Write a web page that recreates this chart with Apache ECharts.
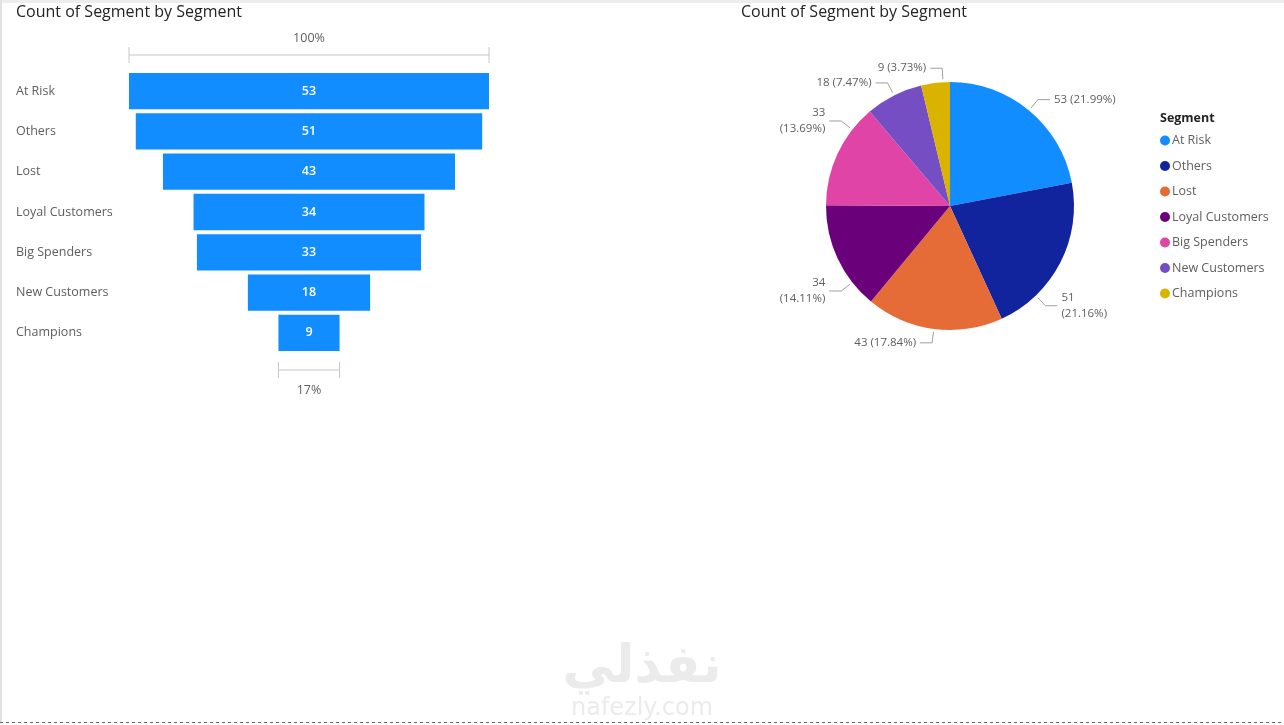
<!DOCTYPE html>
<html><head><meta charset="utf-8">
<script src="https://cdn.jsdelivr.net/npm/echarts@6/dist/echarts.min.js"></script>
<style>html,body{margin:0;padding:0;background:#fff}#c{width:1284px;height:725px}</style>
</head><body><div id="c"></div>
<script>
// ---- data ----
const categories = ['At Risk','Others','Lost','Loyal Customers','Big Spenders','New Customers','Champions'];
const counts = [53, 51, 43, 34, 33, 18, 9];
const chartTitle = 'Count of Segment by Segment';
const legendTitle = 'Segment';

// ---- styles / layout ----
const palette = ['#118DFF','#12239E','#E66C37','#6B007B','#E044A7','#744EC2','#D9B300'];
const FONT = '"Open Sans", "Noto Sans", sans-serif';
const PIE_CENTER = [950, 206];
const PIE_R = 124;
const twoLineLabels = ['Others','Loyal Customers','Big Spenders'];
// leader-line anchor angle shifts (deg) mimicking the reference's collision layout
const anchorShift = { 'Others': 19, 'Loyal Customers': -13, 'Big Spenders': 13, 'Champions': 3.5 };

const maxV = Math.max(...counts);
const total = counts.reduce((a,b)=>a+b,0);
const chart = echarts.init(document.getElementById('c'));

function pieLabelLayout(p) {
  const i = p.dataIndex;
  let before = 0;
  for (let k = 0; k < i; k++) before += counts[k];
  const mid = (before + counts[i] / 2) / total * 360 + (anchorShift[categories[i]] || 0);
  const t = mid * Math.PI / 180;
  const pt = r => [PIE_CENTER[0] + r * Math.sin(t), PIE_CENTER[1] - r * Math.cos(t)];
  const a = pt(PIE_R + 3), e = pt(PIE_R + 14);
  const side = Math.sin(t) >= 0 ? 1 : -1;
  const end = [e[0] + side * 12, e[1]];
  return {
    x: end[0] + side * 4, y: end[1],
    align: side > 0 ? 'left' : 'right', verticalAlign: 'middle',
    labelLinePoints: [a, e, end]
  };
}

chart.setOption({
  backgroundColor: '#fff',
  animation: false,
  textStyle: { fontFamily: FONT },
  color: palette,
  title: [
    { text: chartTitle, left: 16, top: 4, padding: 0, textStyle: { fontFamily: FONT, fontSize: 16, fontWeight: 'normal', color: '#252423' } },
    { text: chartTitle, left: 741, top: 4, padding: 0, textStyle: { fontFamily: FONT, fontSize: 16, fontWeight: 'normal', color: '#252423' } },
    { text: legendTitle, left: 1160, top: 112, padding: 0, textStyle: { fontFamily: FONT, fontSize: 12.5, fontWeight: 'bold', color: '#252423' } }
  ],
  grid: { left: 129, width: 360, top: 71, height: 282 },
  xAxis: { type: 'value', min: 0, max: maxV, show: false },
  yAxis: {
    type: 'category', data: categories, inverse: true,
    axisLine: { show: false }, axisTick: { show: false }, splitLine: { show: false },
    axisLabel: { align: 'left', margin: 113, color: '#605E5C', fontSize: 12.5, fontFamily: FONT, padding: [2,0,0,0] }
  },
  legend: {
    orient: 'vertical', left: 1160, top: 134, padding: 0, icon: 'circle',
    itemWidth: 10, itemHeight: 10, itemGap: 12.5,
    data: categories,
    textStyle: { color: '#605E5C', fontSize: 12.5, fontFamily: FONT, padding: [0,0,0,-3] }
  },
  series: [
    {
      type: 'bar', stack: 'funnel', silent: true, barCategoryGap: '10%',
      data: counts.map(v => (maxV - v) / 2),
      itemStyle: { color: 'rgba(0,0,0,0)' }
    },
    {
      type: 'bar', stack: 'funnel', barCategoryGap: '10%',
      data: counts,
      itemStyle: { color: '#118DFF' },
      label: { show: true, position: 'inside', color: '#fff', fontSize: 12.5, fontWeight: 600, fontFamily: FONT, padding: [2,0,0,0] }
    },
    {
      type: 'pie', center: PIE_CENTER, radius: PIE_R, startAngle: 90, clockwise: true,
      data: categories.map((n, i) => ({ name: n, value: counts[i] })),
      itemStyle: { borderWidth: 0 },
      label: {
        show: true, color: '#605E5C', fontSize: 11.5, fontFamily: FONT, lineHeight: 16,
        formatter: p => p.value + (twoLineLabels.includes(p.name) ? '\n' : ' ') + '(' + (p.value / total * 100).toFixed(2) + '%)'
      },
      labelLine: { show: true, length: 12, length2: 12, lineStyle: { color: '#A19F9D', width: 1 } },
      labelLayout: pieLabelLayout
    }
  ]
});

// ---- conversion brackets computed from the axes ----
const first = counts[0], last = counts[counts.length - 1];
const yTop = chart.convertToPixel({ yAxisIndex: 0 }, categories[0]);
const yBot = chart.convertToPixel({ yAxisIndex: 0 }, categories[categories.length - 1]);
const bandH = 282 / categories.length * 0.9;
const x = v => chart.convertToPixel({ xAxisIndex: 0 }, v);
const topL = x((maxV - first) / 2), topR = x((maxV + first) / 2);
const botL = x((maxV - last) / 2), botR = x((maxV + last) / 2);
const ly1 = yTop - bandH / 2 - 18, ly2 = yBot + bandH / 2 + 19;
const gray = '#C8C6C4';
function bracket(l, r, y) {
  return [
    { type: 'line', shape: { x1: l, y1: y, x2: r, y2: y }, style: { stroke: gray, lineWidth: 1 } },
    { type: 'line', shape: { x1: l, y1: y - 8, x2: l, y2: y + 8 }, style: { stroke: gray, lineWidth: 1 } },
    { type: 'line', shape: { x1: r, y1: y - 8, x2: r, y2: y + 8 }, style: { stroke: gray, lineWidth: 1 } }
  ];
}
const pctTop = Math.round(first / first * 100) + '%';
const pctBot = Math.round(last / first * 100) + '%';
chart.setOption({
  graphic: [
    ...bracket(topL, topR, ly1),
    ...bracket(botL, botR, ly2),
    { type: 'text', x: (topL + topR) / 2, y: ly1 - 17, style: { text: pctTop, fill: '#605E5C', font: '12.5px ' + FONT, textAlign: 'center', textVerticalAlign: 'middle' } },
    { type: 'text', x: (botL + botR) / 2, y: ly2 + 20, style: { text: pctBot, fill: '#605E5C', font: '12.5px ' + FONT, textAlign: 'center', textVerticalAlign: 'middle' } },
    // page frame
    { type: 'rect', shape: { x: 0, y: 0, width: 1284, height: 3 }, style: { fill: '#EDEDED' } },
    { type: 'rect', shape: { x: 0, y: 0, width: 2, height: 722 }, style: { fill: '#E1E1E1' } },
    { type: 'line', shape: { x1: 0, y1: 722.5, x2: 1284, y2: 722.5 }, style: { stroke: '#666', lineWidth: 1, lineDash: [3, 3] } },
    // watermark
    { type: 'text', x: 642, y: 668, style: { text: 'نفذلي', fill: '#EBEBEB', font: 'bold 52px "DejaVu Sans", sans-serif', textAlign: 'center', textVerticalAlign: 'middle' } },
    { type: 'text', x: 642, y: 709, style: { text: 'nafezly.com', fill: '#EBEBEB', font: '24px "DejaVu Sans", sans-serif', textAlign: 'center', textVerticalAlign: 'middle' } }
  ]
});
</script></body></html>
